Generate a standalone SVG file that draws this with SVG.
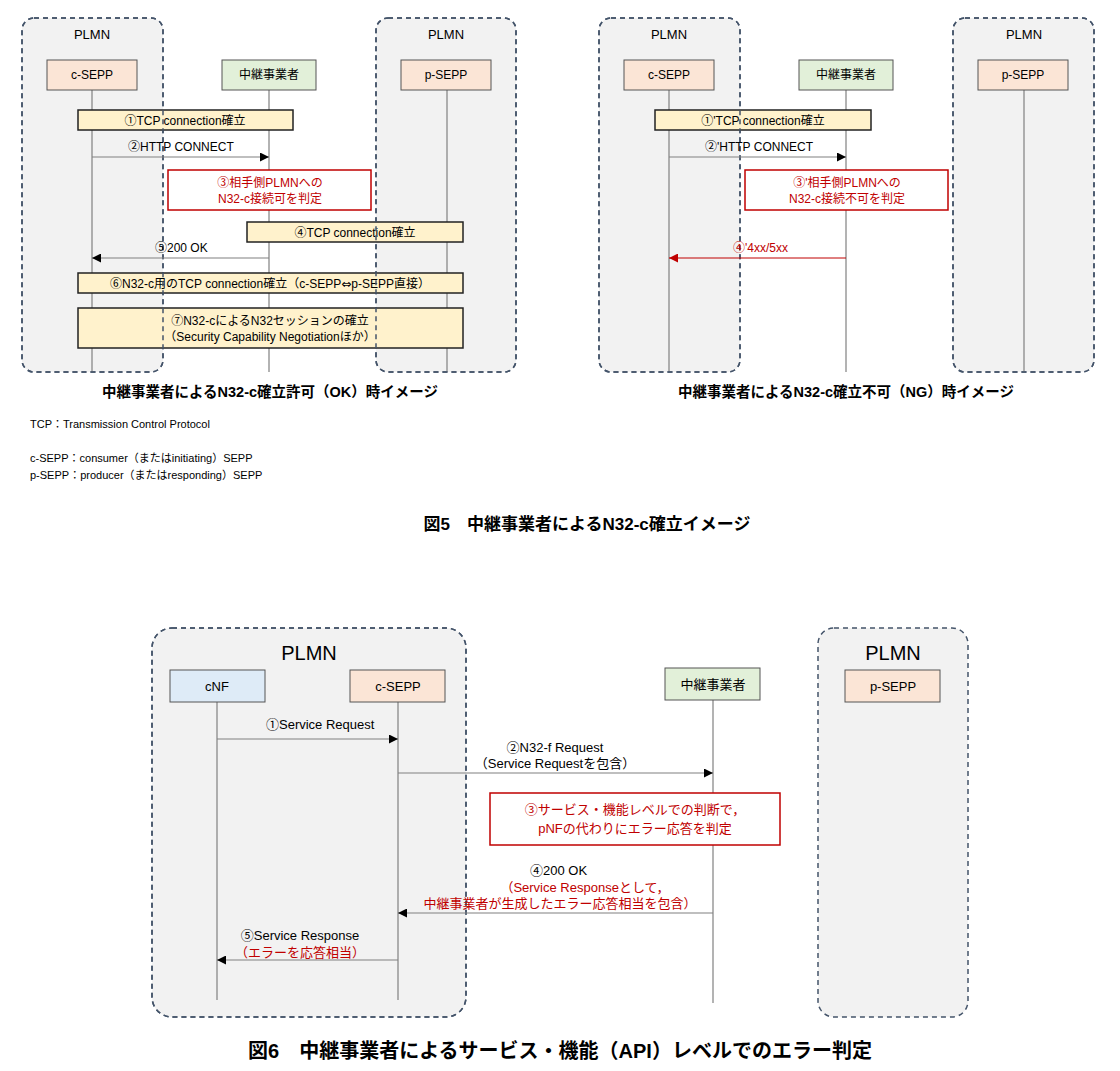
<svg xmlns="http://www.w3.org/2000/svg" width="1120" height="1071" viewBox="0 0 1120 1071">
<defs>
<marker id="ab" viewBox="0 0 10 10" refX="10" refY="5" markerWidth="9" markerHeight="9" markerUnits="userSpaceOnUse" orient="auto"><path d="M0,0L10,5L0,10z" fill="#000"/></marker>
<marker id="ar" viewBox="0 0 10 10" refX="10" refY="5" markerWidth="9" markerHeight="9" markerUnits="userSpaceOnUse" orient="auto"><path d="M0,0L10,5L0,10z" fill="#c00000"/></marker>
</defs>
<style>
text{font-family:"Liberation Sans","Noto Sans CJK JP",sans-serif;fill:#000}
.plmn{fill:#f2f2f2;stroke:#44546a;stroke-width:1.5;stroke-dasharray:5,4}
.pl{fill:none;stroke:#44546a;stroke-width:1.5;stroke-dasharray:5,4}
.life{stroke:#808080;stroke-width:1.2}
.sepp{fill:#fbe5d6;stroke:#555;stroke-width:1}
.relay{fill:#e2f0d9;stroke:#555;stroke-width:1}
.cnf{fill:#deebf7;stroke:#555;stroke-width:1}
.yel{fill:#fff2cc;stroke:#222;stroke-width:1.5}
.red{fill:#fff;stroke:#c00000;stroke-width:1.5}
.msg{stroke:#808080;stroke-width:1.2;fill:none}
.t{font-size:12px}
.r{fill:#c00000}
.b{font-weight:bold}
</style>
<rect width="1120" height="1071" fill="#fff"/>
<g id="plmn-bgs">
<rect class="plmn" x="22" y="18" width="141" height="354" rx="12"/>
<rect class="plmn" x="376" y="18" width="140" height="354" rx="12"/>
<rect class="plmn" x="599" y="18" width="141" height="354" rx="12"/>
<rect class="plmn" x="953" y="18" width="141" height="354" rx="12"/>
<rect class="plmn" x="152" y="628" width="314" height="389" rx="20"/>
<rect class="plmn" x="818" y="628" width="150" height="389" rx="16"/>
</g>
<g class="t" text-anchor="middle">
<text x="92" y="39" font-size="13">PLMN</text><text x="446" y="39" font-size="13">PLMN</text>
<text x="669" y="39" font-size="13">PLMN</text><text x="1024" y="39" font-size="13">PLMN</text>
<text x="309" y="660" font-size="20">PLMN</text><text x="893" y="660" font-size="20">PLMN</text>
</g>
<g id="lifelines">
<line class="life" x1="92" y1="90" x2="92" y2="372"/><line class="life" x1="269" y1="90" x2="269" y2="372"/><line class="life" x1="447" y1="90" x2="447" y2="372"/>
<line class="life" x1="669" y1="90" x2="669" y2="372"/><line class="life" x1="846" y1="90" x2="846" y2="372"/><line class="life" x1="1024" y1="90" x2="1024" y2="372"/>
<line class="life" x1="217" y1="702" x2="217" y2="1000"/><line class="life" x1="398" y1="702" x2="398" y2="1000"/><line class="life" x1="713" y1="700" x2="713" y2="1003"/>
</g>
<g id="n-csepp1"><rect class="sepp" x="47" y="60" width="90" height="30"/><text class="t" x="92" y="79" text-anchor="middle">c-SEPP</text></g>
<g id="n-relay1"><rect class="relay" x="222" y="60" width="94" height="30"/><text class="t" x="269" y="79" text-anchor="middle">中継事業者</text></g>
<g id="n-psepp1"><rect class="sepp" x="401" y="60" width="90" height="30"/><text class="t" x="446" y="79" text-anchor="middle">p-SEPP</text></g>
<g id="n-csepp2"><rect class="sepp" x="624" y="60" width="90" height="30"/><text class="t" x="669" y="79" text-anchor="middle">c-SEPP</text></g>
<g id="n-relay2"><rect class="relay" x="799" y="60" width="94" height="30"/><text class="t" x="846" y="79" text-anchor="middle">中継事業者</text></g>
<g id="n-psepp2"><rect class="sepp" x="978" y="60" width="90" height="30"/><text class="t" x="1023" y="79" text-anchor="middle">p-SEPP</text></g>
<g id="n-cnf"><rect class="cnf" x="170" y="670" width="95" height="32"/><text x="217" y="691" font-size="13" text-anchor="middle">cNF</text></g>
<g id="n-csepp3"><rect class="sepp" x="350" y="670" width="95" height="32"/><text x="398" y="691" font-size="13" text-anchor="middle">c-SEPP</text></g>
<g id="n-relay3"><rect class="relay" x="665" y="668" width="95" height="32"/><text x="713" y="689" font-size="13" text-anchor="middle">中継事業者</text></g>
<g id="n-psepp3"><rect class="sepp" x="845" y="670" width="95" height="32"/><text x="893" y="691" font-size="13" text-anchor="middle">p-SEPP</text></g>
<g id="s1"><rect class="yel" x="78" y="110" width="215" height="20"/><text class="t" x="185" y="125" text-anchor="middle">①TCP connection確立</text></g>
<g id="s3"><rect class="red" x="168" y="170" width="203" height="40"/><text class="t r" x="270" y="187" text-anchor="middle">③相手側PLMNへの</text><text class="t r" x="270" y="203" text-anchor="middle">N32-c接続可を判定</text></g>
<g id="s4"><rect class="yel" x="247" y="222" width="216" height="20"/><text class="t" x="355" y="237" text-anchor="middle">④TCP connection確立</text></g>
<g id="s6"><rect class="yel" x="78" y="273" width="385" height="20"/><text class="t" x="270" y="288" text-anchor="middle">⑥N32-c用のTCP connection確立（c-SEPP<tspan font-family="'DejaVu Sans',sans-serif">⇔</tspan>p-SEPP直接）</text></g>
<g id="s7"><rect class="yel" x="78" y="308" width="385" height="40"/><text class="t" x="270" y="325" text-anchor="middle">⑦N32-cによるN32セッションの確立</text><text class="t" x="270" y="341" text-anchor="middle">（Security Capability Negotiationほか）</text></g>
<g id="r1"><rect class="yel" x="655" y="110" width="216" height="20"/><text class="t" x="763" y="125" text-anchor="middle">①'TCP connection確立</text></g>
<g id="r3"><rect class="red" x="745" y="170" width="203" height="40"/><text class="t r" x="847" y="187" text-anchor="middle">③'相手側PLMNへの</text><text class="t r" x="847" y="203" text-anchor="middle">N32-c接続不可を判定</text></g>
<g id="f3"><rect class="red" x="490" y="793" width="290" height="52"/><text x="635" y="814" font-size="13" class="r" text-anchor="middle">③サービス・機能レベルでの判断で，</text><text x="635" y="833" font-size="13" class="r" text-anchor="middle">pNFの代わりにエラー応答を判定</text></g>
<g id="plmn-borders">
<rect class="pl" x="22" y="18" width="141" height="354" rx="12"/>
<rect class="pl" x="376" y="18" width="140" height="354" rx="12"/>
<rect class="pl" x="599" y="18" width="141" height="354" rx="12"/>
<rect class="pl" x="953" y="18" width="141" height="354" rx="12"/>
<rect class="pl" x="152" y="628" width="314" height="389" rx="20"/>
</g>
<g id="connectors">
<line class="msg" x1="92" y1="157" x2="269" y2="157" marker-end="url(#ab)"/>
<line class="msg" x1="269" y1="258" x2="92" y2="258" marker-end="url(#ab)"/>
<line class="msg" x1="669" y1="157" x2="846" y2="157" marker-end="url(#ab)"/>
<line x1="846" y1="258" x2="669" y2="258" stroke="#c00000" stroke-width="1" marker-end="url(#ar)"/>
<line class="msg" x1="217" y1="739" x2="398" y2="739" marker-end="url(#ab)"/>
<line class="msg" x1="398" y1="773" x2="713" y2="773" marker-end="url(#ab)"/>
<line class="msg" x1="713" y1="913" x2="398" y2="913" marker-end="url(#ab)"/>
<line class="msg" x1="398" y1="960" x2="217" y2="960" marker-end="url(#ab)"/>
</g>
<g id="labels" class="t">
<text x="128" y="151">②HTTP CONNECT</text>
<text x="155" y="252">⑤200 OK</text>
<text x="705" y="151">②'HTTP CONNECT</text>
<text x="733" y="252" class="r">④'4xx/5xx</text>
<text x="266" y="729" font-size="13">①Service Request</text>
<text x="555" y="752" font-size="13" text-anchor="middle">②N32-f Request</text>
<text x="555" y="768" font-size="13" text-anchor="middle">（Service Requestを包含）</text>
<text x="530" y="875" font-size="13">④200 OK</text>
<text x="585" y="892" font-size="13" class="r" text-anchor="middle">（Service Responseとして，</text>
<text x="560" y="908" font-size="13" class="r" text-anchor="middle">中継事業者が生成したエラー応答相当を包含）</text>
<text x="300" y="940" font-size="13" text-anchor="middle">⑤Service Response</text>
<text x="300" y="957" font-size="13" class="r" text-anchor="middle">（エラーを応答相当）</text>
</g>
<g id="captions">
<text x="270" y="397" font-size="14.5" class="b" text-anchor="middle">中継事業者によるN32-c確立許可（OK）時イメージ</text>
<text x="846" y="397" font-size="14.5" class="b" text-anchor="middle">中継事業者によるN32-c確立不可（NG）時イメージ</text>
<text x="30" y="428" font-size="11">TCP：Transmission Control Protocol</text>
<text x="30" y="462" font-size="11">c-SEPP：consumer（またはinitiating）SEPP</text>
<text x="30" y="479" font-size="11">p-SEPP：producer（またはresponding）SEPP</text>
<text x="587" y="530" font-size="17" class="b" text-anchor="middle">図5　中継事業者によるN32-c確立イメージ</text>
<text x="560" y="1058" font-size="20" class="b" text-anchor="middle">図6　中継事業者によるサービス・機能（API）レベルでのエラー判定</text>
</g>
</svg>
